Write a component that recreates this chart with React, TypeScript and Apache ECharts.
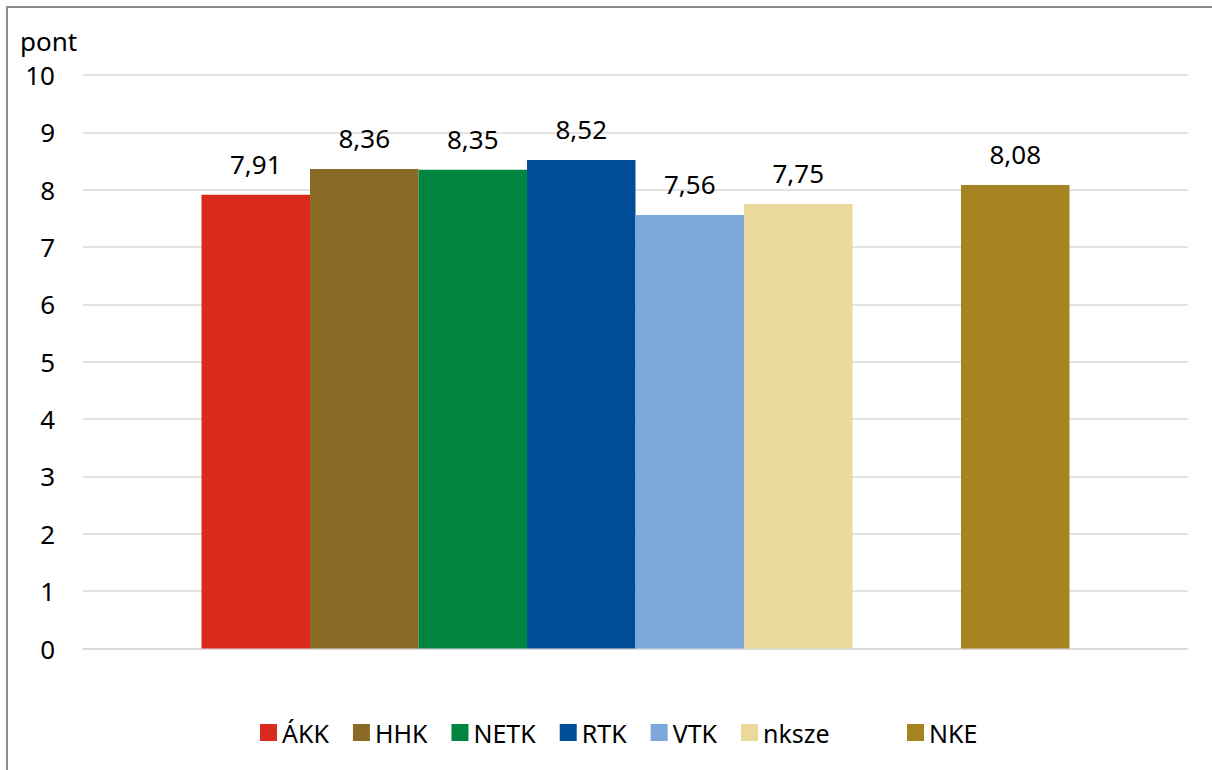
import React, { useEffect, useRef } from "react";
import * as echarts from "echarts";

const seriesNames = ["ÁKK", "HHK", "NETK", "RTK", "VTK", "nksze", "blank", "NKE"];
const seriesValues: (number | null)[] = [7.91, 8.36, 8.35, 8.52, 7.56, 7.75, null, 8.08];
const seriesColors = ["#DA2A1E", "#896B26", "#008541", "#004E98", "#7CA8DA", "#EBD89B", "rgba(0,0,0,0)", "#A68421"];
const legendGroupA = ["ÁKK", "HHK", "NETK", "RTK", "VTK", "nksze"];
const legendGroupB = ["NKE"];
const categories = [""];
const yTicks = { min: 0, max: 10, interval: 1 };
const yUnit = "pont";

const FONT = "'Noto Sans', 'Open Sans', sans-serif";

export default function App() {
  const ref = useRef<HTMLDivElement>(null);
  useEffect(() => {
    if (!ref.current) return;
    const chart = echarts.init(ref.current, undefined, { renderer: "svg" });
    const legendBase = {
      top: 720,
      padding: 0,
      itemWidth: 17,
      itemHeight: 17,
      itemGap: 24,
      icon: "rect",
      textStyle: { fontSize: 25, color: "#000", fontFamily: FONT },
      selectedMode: false,
    };
    chart.setOption({
      animation: false,
      textStyle: { fontFamily: FONT },
      grid: { left: 83, right: 24, top: 75, bottom: 121.5, containLabel: false },
      legend: [
        { ...legendBase, data: legendGroupA, left: 260 },
        { ...legendBase, data: legendGroupB, left: 907 },
      ],
      graphic: [
        {
          type: "text",
          left: 20,
          top: 28,
          style: { text: yUnit, fontSize: 26, fill: "#000", fontFamily: FONT },
        },
      ],
      xAxis: {
        type: "category",
        data: categories,
        axisLine: { show: true, lineStyle: { color: "#d9d9d9", width: 1.5 } },
        axisTick: { show: false },
        axisLabel: { show: false },
      },
      yAxis: {
        type: "value",
        min: yTicks.min,
        max: yTicks.max,
        interval: yTicks.interval,
        axisLine: { show: false },
        axisTick: { show: false },
        axisLabel: { fontSize: 26, color: "#000", margin: 28, fontFamily: FONT },
        splitLine: { lineStyle: { color: "#d9d9d9", width: 1.5 } },
      },
      series: seriesNames.map((name, i) => ({
        type: "bar",
        name,
        data: [seriesValues[i]],
        barGap: "0%",
        barCategoryGap: "21.45%",
        itemStyle: { color: seriesColors[i] },
        label: {
          show: seriesValues[i] !== null,
          position: "top",
          distance: 18,
          fontSize: 26,
          color: "#000",
          fontFamily: FONT,
          formatter: (p: any) => Number(p.value).toFixed(2).replace(".", ","),
        },
      })),
    });
    return () => chart.dispose();
  }, []);
  return (
    <div style={{ position: "fixed", left: 0, top: 0, width: 1212, height: 770, overflow: "hidden", background: "#fff" }}>
      <div
        style={{
          position: "absolute",
          left: 6,
          top: 6,
          width: 1400,
          height: 1000,
          borderLeft: "2px solid #8c8c8c",
          borderTop: "2px solid #8c8c8c",
        }}
      />
      <div ref={ref} style={{ position: "absolute", left: 0, top: 0, width: 1212, height: 770 }} />
    </div>
  );
}
